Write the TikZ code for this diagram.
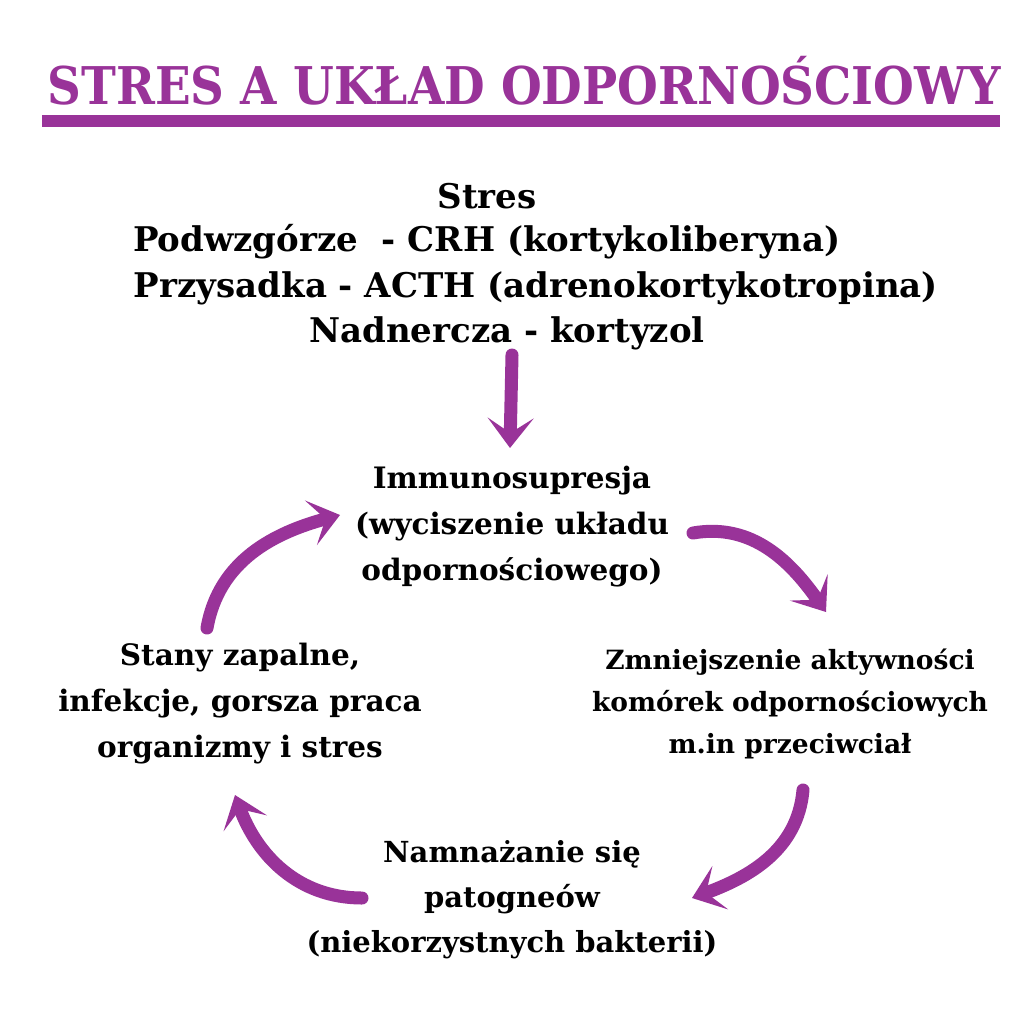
\documentclass[tikz,border=0pt]{standalone}
\usepackage{fontspec}
\setmainfont{DejaVu Serif}
\newfontfamily\titlefont{DejaVu Serif Condensed}
\usetikzlibrary{arrows.meta}
\definecolor{fiolet}{HTML}{993399}
\tikzstyle{head} = [font=\titlefont\bfseries\fontsize{52}{60}\selectfont, text=fiolet, inner sep=0pt]
\tikzstyle{top} = [font=\bfseries\fontsize{34}{46}\selectfont, inner sep=0pt]
\tikzstyle{body} = [align=center, font=\bfseries\fontsize{29.5}{46}\selectfont, inner sep=0pt]
\tikzstyle{arrow} = [line width=13pt, line cap=round, draw=fiolet, -{Stealth[length=30pt, width=46pt, inset=15pt]}]

\begin{document}
\begin{tikzpicture}[x=1pt, y=-1pt]
\useasboundingbox [fill=white] (0,0) rectangle (1024,1024);

%Title
\node (title) [head] at (524,81) {STRES A UKŁAD ODPORNOŚCIOWY};
\fill [fiolet] (42,115) rectangle (1000,127);

%Stres
\node (stres) [top] at (487,196) {Stres};
\node (podw) [top] at (487,242) {Podwzgórze\ \ - CRH (kortykoliberyna)};
\node (przys) [top] at (536,288) {Przysadka - ACTH (adrenokortykotropina)};
\node (nadn) [top] at (507,333) {Nadnercza - kortyzol};

%Immunosupresja
\node (immuno) [body] at (512,527) {Immunosupresja\\(wyciszenie układu\\odpornościowego)};

%Zmniejszenie
\node (zmn) [body, font=\bfseries\fontsize{26.5}{42}\selectfont] at (790,704) {Zmniejszenie aktywności\\komórek odpornościowych\\m.in przeciwciał};

%Namnazanie
\node (namn) [body, font=\bfseries\fontsize{29}{45}\selectfont] at (512,900) {Namnażanie się\\patogneów\\(niekorzystnych bakterii)};

%Stany zapalne
\node (stany) [body] at (240,704) {Stany zapalne,\\infekcje, gorsza praca\\organizmy i stres};

\draw [arrow] ([shift={(5,22)}]nadn.center) to ([shift={(-2,-79)}]immuno.center);
\draw [arrow] ([shift={(181,6)}]immuno.center) to [out=10, in=125] ([shift={(36,-92)}]zmn.center);
\draw [arrow] ([shift={(13,86)}]zmn.center) to [out=-95, in=20] ([shift={(180,-2)}]namn.center);
\draw [arrow] ([shift={(-150,-2)}]namn.center) to [out=180, in=-70] ([shift={(-5,91)}]stany.center);
\draw [arrow] ([shift={(-33,-76)}]stany.center) to [out=80, in=195] ([shift={(-172,-12)}]immuno.center);

\end{tikzpicture}
\end{document}
